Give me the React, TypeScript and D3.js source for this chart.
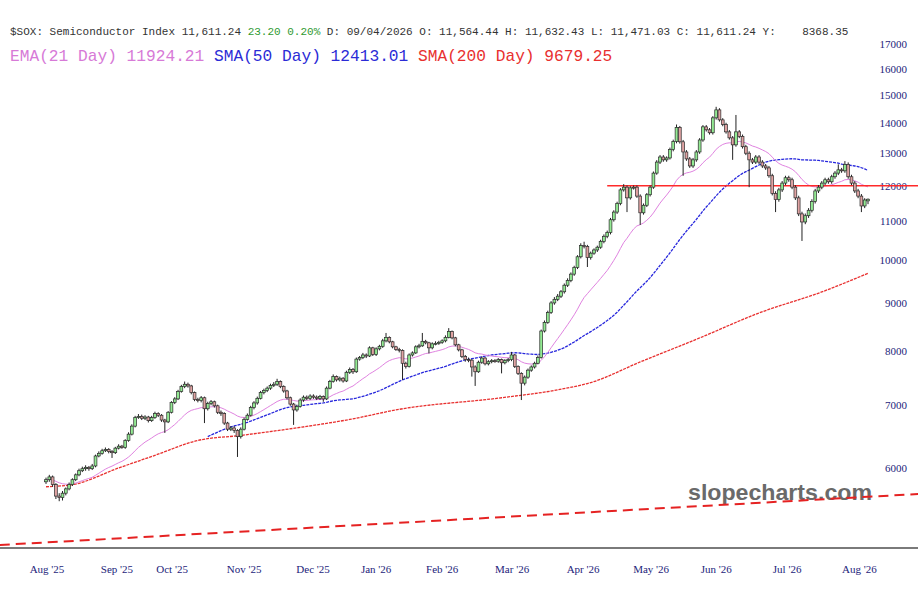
import React from 'react';
import * as d3 from 'd3';

// ---- Data ----
const closes = [
  5830, 5870, 5760, 5600, 5580, 5640, 5700, 5760, 5830, 5900,
  5960, 5990, 6010, 5990, 6030, 6180, 6220, 6260, 6280, 6250,
  6230, 6300, 6330, 6310, 6420, 6520, 6650, 6790, 6810, 6780,
  6800, 6740, 6790, 6860, 6830, 6750, 6720, 6880, 7050, 7110,
  7240, 7330, 7370, 7340, 7220, 7100, 7080, 7130, 6940, 7030,
  7060, 6990, 6880, 6860, 6700, 6600, 6620, 6580, 6480, 6600,
  6760, 6830, 6960, 7040, 7120, 7220, 7260, 7300, 7350, 7370,
  7420, 7330, 7250, 7130, 7020, 6920, 6980, 7090, 7140, 7120,
  7160, 7140, 7120, 7150, 7110, 7300, 7420, 7510, 7450, 7480,
  7430, 7590, 7640, 7600, 7840, 7870, 7920, 7900, 8060, 7930,
  8040, 8090, 8200, 8270, 8180, 8080, 8030, 8010, 7760, 7700,
  7920, 7960, 8080, 8100, 8190, 8160, 8060, 8140, 8150, 8170,
  8200, 8270, 8390, 8260, 8120, 8020, 7890, 7830, 7820, 7690,
  7600, 7780, 7860, 7750, 7790, 7810, 7800, 7830, 7770, 7810,
  7830, 7920, 7700, 7570, 7390, 7500, 7630, 7690, 7760, 7870,
  8400, 8580, 8790, 9000, 9080, 9150, 9250, 9400, 9510, 9660,
  9820, 10080, 10360, 10340, 10060, 10170, 10250, 10320, 10470, 10600,
  10700, 11040, 11250, 11490, 11880, 11960, 11650, 11940, 11960, 11700,
  11230, 11440, 11740, 11960, 12380, 12720, 12880, 12790, 12850, 13120,
  13380, 13850, 13370, 13040, 12820, 12600, 12790, 13040, 13430, 13870,
  13770, 13670, 14180, 14460, 14110, 13950, 13700, 13500, 13270, 13700,
  13550, 13210, 13000, 12790, 12720, 12880, 12720, 12600, 12540, 12300,
  11780, 11600, 11880, 12080, 12240, 12180, 11960, 11650, 11200, 10980,
  11150, 11300, 11550, 11850, 11960, 12080, 12180, 12120, 12270, 12380,
  12480, 12450, 12650, 12270, 12080, 11850, 11700, 11420, 11590, 11611.24,
];

const opens = [
  5800, 5830, 5870, 5760, 5600, 5580, 5640, 5700, 5760, 5830,
  5900, 5960, 5990, 6010, 5990, 6030, 6180, 6220, 6260, 6280,
  6250, 6230, 6300, 6330, 6310, 6420, 6520, 6650, 6790, 6810,
  6780, 6800, 6740, 6790, 6860, 6830, 6750, 6720, 6880, 7050,
  7110, 7240, 7330, 7370, 7340, 7220, 7100, 7080, 7130, 6940,
  7030, 7060, 6990, 6880, 6860, 6700, 6600, 6620, 6580, 6480,
  6600, 6760, 6830, 6960, 7040, 7120, 7220, 7260, 7300, 7350,
  7370, 7420, 7330, 7250, 7130, 7020, 6920, 6980, 7090, 7140,
  7120, 7160, 7140, 7120, 7150, 7110, 7300, 7420, 7510, 7450,
  7480, 7430, 7590, 7640, 7600, 7840, 7870, 7920, 7900, 8060,
  7930, 8040, 8090, 8200, 8270, 8180, 8080, 8030, 8010, 7760,
  7700, 7920, 7960, 8080, 8100, 8190, 8160, 8060, 8140, 8150,
  8170, 8200, 8270, 8390, 8260, 8120, 8020, 7890, 7830, 7820,
  7690, 7600, 7780, 7860, 7750, 7790, 7810, 7800, 7830, 7770,
  7810, 7830, 7920, 7700, 7570, 7390, 7500, 7630, 7690, 7760,
  7870, 8400, 8580, 8790, 9000, 9080, 9150, 9250, 9400, 9510,
  9660, 9820, 10080, 10360, 10340, 10060, 10170, 10250, 10320, 10470,
  10600, 10700, 11040, 11250, 11490, 11880, 11960, 11650, 11940, 11960,
  11700, 11230, 11440, 11740, 11960, 12380, 12720, 12880, 12790, 12850,
  13120, 13380, 13850, 13370, 13040, 12820, 12600, 12790, 13040, 13430,
  13870, 13770, 13670, 14180, 14460, 14110, 13950, 13700, 13500, 13270,
  13700, 13550, 13210, 13000, 12790, 12720, 12880, 12720, 12600, 12540,
  12300, 11780, 11600, 11880, 12080, 12240, 12180, 11960, 11650, 11200,
  10980, 11150, 11300, 11550, 11850, 11960, 12080, 12180, 12120, 12270,
  12380, 12480, 12450, 12650, 12270, 12080, 11850, 11700, 11420, 11564.44,
];

const highs = [
  5860, 5900, 5890, 5780, 5640, 5670, 5720, 5790, 5850, 5920,
  5990, 6020, 6040, 6030, 6060, 6200, 6250, 6290, 6310, 6300,
  6270, 6320, 6360, 6350, 6440, 6550, 6680, 6820, 6850, 6840,
  6830, 6820, 6820, 6890, 6880, 6850, 6770, 6900, 7070, 7140,
  7270, 7360, 7420, 7400, 7360, 7240, 7130, 7160, 7150, 7060,
  7090, 7080, 7010, 6910, 6880, 6720, 6650, 6650, 6600, 6630,
  6790, 6860, 6990, 7070, 7150, 7250, 7290, 7330, 7380, 7410,
  7470, 7440, 7350, 7270, 7150, 7040, 7010, 7120, 7170, 7170,
  7190, 7190, 7170, 7180, 7170, 7330, 7450, 7550, 7530, 7510,
  7500, 7620, 7680, 7670, 7870, 7900, 7960, 7950, 8090, 8080,
  8070, 8120, 8240, 8360, 8290, 8200, 8100, 8060, 8030, 7790,
  7950, 7990, 8110, 8140, 8360, 8220, 8180, 8170, 8190, 8200,
  8230, 8310, 8460, 8410, 8280, 8140, 8040, 7920, 7870, 7840,
  7720, 7810, 7890, 7880, 7820, 7840, 7840, 7860, 7850, 7840,
  7860, 7980, 7940, 7720, 7590, 7530, 7660, 7720, 7790, 7910,
  8430, 8620, 8830, 9040, 9130, 9200, 9290, 9440, 9560, 9700,
  9860, 10120, 10420, 10460, 10380, 10210, 10290, 10360, 10510, 10650,
  10750, 11090, 11300, 11540, 11930, 12050, 12010, 11990, 12010, 12010,
  11750, 11490, 11790, 12010, 12430, 12780, 12940, 12940, 12900, 13180,
  13440, 13950, 13900, 13430, 13100, 12880, 12850, 13100, 13490, 13930,
  13930, 13830, 14240, 14570, 14520, 14170, 14010, 13760, 13560, 14280,
  13760, 13610, 13270, 13060, 12850, 12940, 12940, 12780, 12660, 12600,
  12360, 11840, 11940, 12140, 12300, 12300, 12240, 12020, 11710, 11260,
  11210, 11360, 11610, 11910, 12020, 12140, 12240, 12240, 12330, 12440,
  12650, 12540, 12750, 12710, 12330, 12140, 11910, 11760, 11640, 11632.43,
];

const lows = [
  5770, 5800, 5730, 5560, 5530, 5540, 5610, 5680, 5740, 5810,
  5880, 5940, 5960, 5960, 5970, 6010, 6160, 6200, 6240, 6220,
  6150, 6210, 6280, 6290, 6290, 6400, 6500, 6630, 6770, 6750,
  6750, 6710, 6720, 6770, 6800, 6720, 6540, 6700, 6860, 7020,
  7090, 7220, 7300, 7310, 7190, 7070, 7050, 7050, 6700, 6910,
  7000, 6960, 6850, 6820, 6670, 6570, 6570, 6540, 6165, 6450,
  6580, 6740, 6810, 6930, 7010, 7100, 7190, 7230, 7270, 7320,
  7340, 7300, 7220, 7100, 6990, 6670, 6890, 6960, 7060, 7090,
  7090, 7110, 7090, 7090, 7060, 7090, 7280, 7400, 7420, 7420,
  7400, 7410, 7560, 7560, 7580, 7810, 7840, 7860, 7880, 7900,
  7900, 8010, 8060, 8170, 8150, 8050, 8000, 7970, 7450, 7660,
  7680, 7890, 7940, 8050, 8080, 8130, 7950, 8030, 8110, 8120,
  8140, 8170, 8250, 8230, 8090, 7990, 7860, 7790, 7780, 7510,
  7340, 7580, 7750, 7720, 7720, 7760, 7770, 7770, 7570, 7740,
  7780, 7800, 7670, 7540, 7090, 7350, 7470, 7600, 7660, 7740,
  7850, 8370, 8550, 8760, 8960, 9040, 9110, 9210, 9360, 9470,
  9620, 9780, 10040, 10290, 9830, 10010, 10130, 10200, 10280, 10420,
  10550, 10650, 10990, 11200, 11440, 11830, 11250, 11600, 11890, 11650,
  10900, 11180, 11390, 11690, 11910, 12330, 12660, 12730, 12730, 12800,
  13060, 13320, 13310, 12300, 12760, 12540, 12540, 12730, 12980, 13370,
  13710, 13610, 13610, 14120, 14050, 13890, 13640, 13440, 12790, 13210,
  13490, 13150, 12940, 11960, 12660, 12660, 12660, 12540, 12480, 12240,
  11720, 11250, 11540, 11820, 12020, 12120, 11900, 11590, 11140, 10480,
  10920, 11090, 11240, 11490, 11790, 11900, 12020, 12060, 12060, 12210,
  12320, 12390, 12390, 12210, 12020, 11790, 11640, 11250, 11360, 11471.03,
];

// 200-day SMA (needs history before the window) sampled at candle indices
const sma200Idx = [0, 8, 22, 33, 46, 59, 77, 92, 107, 138, 155, 165, 180, 198, 216, 235, 249];
const sma200Vals = [5730, 5760, 6000, 6190, 6420, 6500, 6630, 6760, 6930, 7130, 7270, 7400, 7785, 8258, 8781, 9246, 9679.25];

// month labels and their positions in candle-index space
const xTickLabels = ["Aug '25", "Sep '25", "Oct '25", "Nov '25", "Dec '25", "Jan '26", "Feb '26", "Mar '26", "Apr '26", "May '26", "Jun '26", "Jul '26", "Aug '26"];
const xTickIdx = [0.3, 21.5, 38.2, 60, 80.9, 100, 120, 141.2, 162.7, 183.3, 203, 224.5, 246.4];

const yTicks = [6000, 7000, 8000, 9000, 10000, 11000, 12000, 13000, 14000, 15000, 16000, 17000];

// dashed long-term trendline endpoints (index, value)
const trendIdx = [-14, 264.2];
const trendVals = [4966, 5629];

// horizontal resistance level
const levelValue = 12000;
const levelStartIdx = 170;

function ema(values: number[], period: number) {
  const k = 2 / (period + 1);
  const out: number[] = [];
  values.forEach((v, i) => {
    out.push(i === 0 ? v : v * k + out[i - 1] * (1 - k));
  });
  return out;
}

function sma(values: number[], period: number) {
  const out: (number | null)[] = [];
  for (let i = 0; i < values.length; i++) {
    if (i < period - 1) { out.push(null); continue; }
    out.push(d3.mean(values.slice(i - period + 1, i + 1)) as number);
  }
  return out;
}

export default function App() {
  const W = 918, H = 589;
  const n = closes.length;
  const x = d3.scaleLinear().domain([0, n - 1]).range([46, 868]);
  const y = d3.scaleLog().domain([6000, 17000]).range([468, 44]);

  const ema21 = ema(closes, 21);
  const sma50 = sma(closes, 50);

  const lineGen = d3.line<[number, number]>().x(d => x(d[0])).y(d => y(d[1]));
  const emaPath = lineGen(ema21.map((v, i) => [i, v] as [number, number])) || '';
  const smaPts = sma50.map((v, i) => [i, v] as [number, number | null]).filter(d => d[1] !== null) as [number, number][];
  const sma50Path = lineGen(smaPts) || '';
  const sma200Path = d3.line<[number, number]>().x(d => x(d[0])).y(d => y(d[1])).curve(d3.curveMonotoneX)(
    sma200Idx.map((d, i) => [d, sma200Vals[i]] as [number, number])
  ) || '';

  const bw = 2.8;
  const mono = "'Liberation Mono', 'DejaVu Sans Mono', monospace";
  const serif = "'Liberation Serif', 'DejaVu Serif', serif";
  const navy = '#1d1d7a';

  return (
    <svg width={W} height={H} style={{ position: 'absolute', left: 0, top: 0, background: '#fff' }}>
      <rect x={0} y={0} width={W} height={H} fill="#fff" />
      {/* header */}
      <text x={10} y={35} fontFamily={mono} fontSize={11} fill="#333" style={{ whiteSpace: 'pre' }}>
        <tspan>{'$SOX: Semiconductor Index 11,611.24 '}</tspan>
        <tspan fill="#2f9a2f">{'23.20 0.20%'}</tspan>
        <tspan>{' D: 09/04/2026 O: 11,564.44 H: 11,632.43 L: 11,471.03 C: 11,611.24 Y:    8368.35'}</tspan>
      </text>
      <text x={10} y={61} fontFamily={mono} fontSize={16.2} style={{ whiteSpace: 'pre' }}>
        <tspan fill="#d77ad7">{'EMA(21 Day) 11924.21 '}</tspan>
        <tspan fill="#2b2bd6">{'SMA(50 Day) 12413.01 '}</tspan>
        <tspan fill="#e8302f">{'SMA(200 Day) 9679.25'}</tspan>
      </text>

      {/* y axis labels */}
      {yTicks.map(t => (
        <text key={t} x={907} y={y(t) + 4} textAnchor="end" fontFamily={serif} fontSize={11} fill={navy}>{t}</text>
      ))}

      {/* watermark */}
      <text x={688} y={500} textLength={184} lengthAdjust="spacingAndGlyphs" fontFamily="'Liberation Sans', Arial, sans-serif" fontWeight="bold" fontSize={22} fill="#6a6a6a">slopecharts.com</text>

      {/* trendline */}
      <line x1={x(trendIdx[0])} y1={y(trendVals[0])} x2={x(trendIdx[1])} y2={y(trendVals[1])}
        stroke="#e52222" strokeWidth={2} strokeDasharray="10,6" />

      {/* SMA200 */}
      <path d={sma200Path} fill="none" stroke="#e8302f" strokeWidth={1.3} strokeDasharray="3,1" />
      {/* SMA50 */}
      <path d={sma50Path} fill="none" stroke="#2626dc" strokeWidth={1.3} strokeDasharray="3,1" />
      {/* EMA21 */}
      <path d={emaPath} fill="none" stroke="#e083e0" strokeWidth={1} />

      {/* horizontal level */}
      <line x1={x(levelStartIdx)} y1={y(levelValue)} x2={W} y2={y(levelValue)} stroke="#ff2a2a" strokeWidth={1.5} />

      {/* candles */}
      {closes.map((c, i) => {
        const o = opens[i];
        const up = c >= o;
        const top = y(Math.max(o, c));
        const bot = y(Math.min(o, c));
        const cx = x(i);
        return (
          <g key={i}>
            <line x1={cx} x2={cx} y1={y(highs[i])} y2={y(lows[i])} stroke="#222" strokeWidth={1} />
            <rect x={cx - bw / 2} y={top} width={bw} height={Math.max(1, bot - top)}
              fill={up ? '#93ea93' : '#e0a3a3'} stroke="#2a2a2a" strokeWidth={0.7} />
          </g>
        );
      })}

      {/* x axis */}
      <line x1={0} x2={W} y1={548} y2={548} stroke="#7a7a7a" strokeWidth={2} />
      {xTickLabels.map((l, i) => (
        <text key={l} x={x(xTickIdx[i])} y={573} textAnchor="middle" fontFamily={serif} fontSize={11} fill={navy}>{l}</text>
      ))}
    </svg>
  );
}
